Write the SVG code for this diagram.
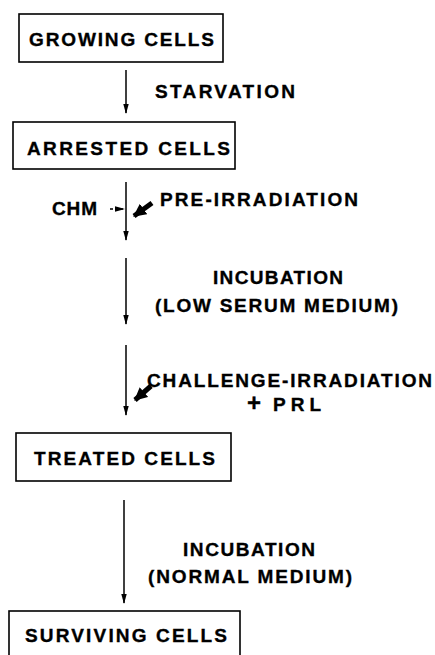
<svg xmlns="http://www.w3.org/2000/svg" width="435" height="655" viewBox="0 0 435 655">
<style>
.box{fill:#fff;stroke:#000;stroke-width:1.6}
.t{font-family:"Liberation Sans",Arial,sans-serif;font-weight:bold;font-size:19px;fill:#000;stroke:#000;stroke-width:0.35}
.c{stroke:#000;stroke-width:1.5;fill:none}
.d{stroke:#000;stroke-width:1.5;fill:none;stroke-dasharray:3 2}
.b{stroke:#000;stroke-width:5;fill:none}
</style>
<defs>
<marker id="ah" markerUnits="userSpaceOnUse" markerWidth="10" markerHeight="10" viewBox="0 0 10 10" refX="9" refY="5" orient="auto">
<path d="M0,2.3 L10,5 L0,7.7 Z" fill="#000"/>
</marker>
<marker id="bh" markerUnits="userSpaceOnUse" markerWidth="13" markerHeight="13" viewBox="0 0 12 12" refX="11" refY="6" orient="auto">
<path d="M0,0 L12,6 L0,12 Z" fill="#000"/>
</marker>
</defs>
<rect width="435" height="655" fill="#fff"/>
<g id="connectors">
<line class="c" x1="126" y1="70" x2="126" y2="113" marker-end="url(#ah)"/>
<line class="c" x1="126" y1="182" x2="126" y2="240" marker-end="url(#ah)"/>
<line class="c" x1="126" y1="258" x2="126" y2="324" marker-end="url(#ah)"/>
<line class="c" x1="126" y1="345" x2="126" y2="415" marker-end="url(#ah)"/>
<line class="c" x1="124" y1="500" x2="124" y2="603" marker-end="url(#ah)"/>
<line class="d" x1="110" y1="209" x2="124" y2="209" marker-end="url(#ah)"/>
<line class="b" x1="152" y1="203" x2="134" y2="216" marker-end="url(#bh)"/>
<line class="b" x1="151" y1="386" x2="135" y2="400" marker-end="url(#bh)"/>
</g>
<g id="growing">
<rect class="box" x="19" y="14" width="204" height="48"/>
<text class="t" x="29" y="46" textLength="185" lengthAdjust="spacing">GROWING CELLS</text>
</g>
<g id="starvation">
<text class="t" x="155" y="98" textLength="140" lengthAdjust="spacing">STARVATION</text>
</g>
<g id="arrested">
<rect class="box" x="13" y="122" width="222" height="47"/>
<text class="t" x="27" y="155" textLength="203" lengthAdjust="spacing">ARRESTED CELLS</text>
</g>
<g id="chm">
<text class="t" x="52" y="215" textLength="45" lengthAdjust="spacing">CHM</text>
</g>
<g id="preirr">
<text class="t" x="160" y="206" textLength="198" lengthAdjust="spacing">PRE-IRRADIATION</text>
</g>
<g id="incub1">
<text class="t" x="213" y="284" textLength="130" lengthAdjust="spacing">INCUBATION</text>
<text class="t" x="155" y="312" textLength="243" lengthAdjust="spacing">(LOW SERUM MEDIUM)</text>
</g>
<g id="challenge">
<text class="t" x="147" y="387" textLength="285" lengthAdjust="spacing">CHALLENGE-IRRADIATION</text>
<text class="t" x="247" y="411"><tspan font-size="24">+</tspan><tspan dx="12" textLength="48" lengthAdjust="spacing">PRL</tspan></text>
</g>
<g id="treated">
<rect class="box" x="16" y="433" width="215" height="48"/>
<text class="t" x="34" y="465" textLength="181" lengthAdjust="spacing">TREATED CELLS</text>
</g>
<g id="incub2">
<text class="t" x="183" y="556" textLength="132" lengthAdjust="spacing">INCUBATION</text>
<text class="t" x="148" y="583" textLength="204" lengthAdjust="spacing">(NORMAL MEDIUM)</text>
</g>
<g id="surviving">
<rect class="box" x="9" y="611" width="231" height="60"/>
<text class="t" x="25" y="642" textLength="202" lengthAdjust="spacing">SURVIVING CELLS</text>
</g>
</svg>
